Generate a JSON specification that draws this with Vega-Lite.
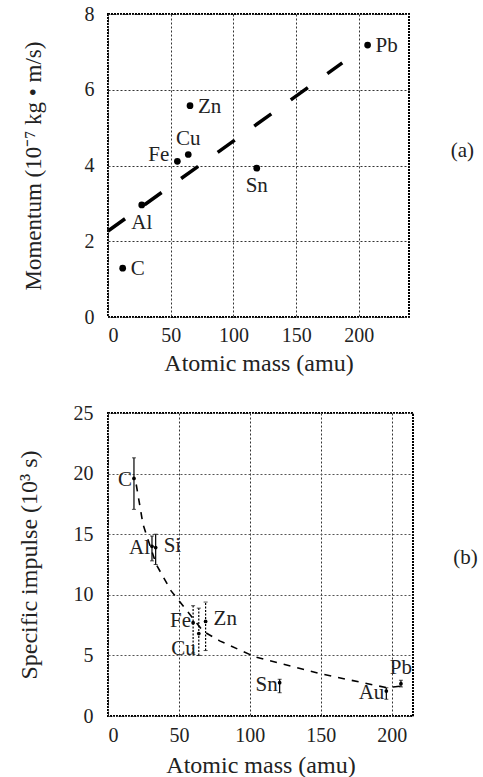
{
  "$schema": "https://vega.github.io/schema/vega-lite/v6.json",
  "padding": {"left": 16, "top": 3, "right": 0, "bottom": 0},
  "background": "white",
  "spacing": 26,
  "config": {
    "font": "Liberation Serif",
    "view": {"stroke": "black", "strokeWidth": 2, "strokeDash": [2, 1]},
    "axis": {
      "grid": true, "gridDash": [2, 2], "gridColor": "#333", "gridOpacity": 1, "gridWidth": 1,
      "domain": false, "ticks": false,
      "labelFont": "Liberation Serif", "labelFontSize": 20, "labelColor": "#222",
      "titleFont": "Liberation Serif", "titleFontSize": 23, "titleFontWeight": "normal", "titleColor": "#222"
    },
    "title": {"font": "Liberation Serif", "fontSize": 21, "fontWeight": "normal", "color": "#222"}
  },
  "datasets": {
    "momentum": [
      {"el": "C", "m": 11.7, "p": 1.29},
      {"el": "Al", "m": 26.9, "p": 2.96},
      {"el": "Fe", "m": 55.3, "p": 4.11},
      {"el": "Cu", "m": 64.0, "p": 4.29},
      {"el": "Zn", "m": 65.4, "p": 5.58},
      {"el": "Sn", "m": 118.6, "p": 3.93},
      {"el": "Pb", "m": 207.0, "p": 7.18}
    ],
    "fit_a": [
      {"m": 0, "p": 2.27},
      {"m": 186.8, "p": 6.71}
    ],
    "impulse": [
      {"el": "C", "m": 18.3, "isp": 19.6, "lo": 17.05, "hi": 21.3},
      {"el": "Al", "m": 31.0, "isp": 14.0, "lo": 12.8, "hi": 14.85},
      {"el": "Si", "m": 33.6, "isp": 13.9, "lo": 12.5, "hi": 15.0},
      {"el": "Fe", "m": 60.0, "isp": 7.7, "lo": 5.2, "hi": 9.1},
      {"el": "Cu", "m": 64.0, "isp": 6.8, "lo": 5.0, "hi": 8.9},
      {"el": "Zn", "m": 68.8, "isp": 7.8, "lo": 5.4, "hi": 9.4},
      {"el": "Sn", "m": 121.0, "isp": 2.75, "lo": 1.92, "hi": 3.03},
      {"el": "Au", "m": 196.2, "isp": 2.06, "lo": 1.38, "hi": 2.33},
      {"el": "Pb", "m": 206.5, "isp": 2.67, "lo": 2.4, "hi": 2.95}
    ],
    "fit_b": [
      {"m": 19.9, "isp": 19.1},
      {"m": 24.7, "isp": 15.8},
      {"m": 34.0, "isp": 12.5},
      {"m": 44.6, "isp": 10.3},
      {"m": 57.6, "isp": 8.4},
      {"m": 67.0, "isp": 7.0},
      {"m": 78.7, "isp": 6.2},
      {"m": 103.8, "isp": 4.87},
      {"m": 151.6, "isp": 3.44},
      {"m": 196.2, "isp": 2.34},
      {"m": 206.7, "isp": 2.47}
    ]
  },
  "vconcat": [
    {
      "width": 301,
      "height": 303,
      "title": {"text": "(a)", "orient": "right", "angle": 0, "anchor": "middle", "offset": 30, "dy": -26, "font": "Liberation Serif"},
      "encoding": {
        "x": {"field": "m", "type": "quantitative", "scale": {"domain": [0, 240], "nice": false},
              "axis": {"values": [0, 50, 100, 150, 200], "labelPadding": 8, "titlePadding": 6, "title": "Atomic mass  (amu)", "titleFontSize": 24,
                       "labelFont": "Liberation Serif", "titleFont": "Liberation Serif"}},
        "y": {"field": "p", "type": "quantitative", "scale": {"domain": [0, 8], "nice": false},
              "axis": {"values": [0, 2, 4, 6, 8], "labelPadding": 14, "titlePadding": 39, "title": "Momentum  (10⁻⁷ kg • m/s)",
                       "labelFont": "Liberation Serif", "titleFont": "Liberation Serif"}}
      },
      "layer": [
        {"data": {"name": "fit_a"}, "mark": {"type": "line", "color": "black", "strokeWidth": 3.5, "strokeDash": [21, 24]}},
        {"data": {"name": "momentum"}, "mark": {"type": "circle", "color": "black", "opacity": 1, "size": 45}},
        {"data": {"name": "momentum"}, "transform": [{"filter": "indexof(['Pb','Zn','C'], datum.el) >= 0"}],
         "mark": {"type": "text", "font": "Liberation Serif", "fontSize": 21, "color": "#222", "align": "left", "baseline": "middle", "dx": 8, "dy": 1},
         "encoding": {"text": {"field": "el"}}},
        {"data": {"name": "momentum"}, "transform": [{"filter": "datum.el === 'Cu'"}],
         "mark": {"type": "text", "font": "Liberation Serif", "fontSize": 21, "color": "#222", "align": "center", "baseline": "middle", "dy": -16},
         "encoding": {"text": {"field": "el"}}},
        {"data": {"name": "momentum"}, "transform": [{"filter": "datum.el === 'Fe'"}],
         "mark": {"type": "text", "font": "Liberation Serif", "fontSize": 21, "color": "#222", "align": "right", "baseline": "middle", "dx": -8, "dy": -6},
         "encoding": {"text": {"field": "el"}}},
        {"data": {"name": "momentum"}, "transform": [{"filter": "indexof(['Sn','Al'], datum.el) >= 0"}],
         "mark": {"type": "text", "font": "Liberation Serif", "fontSize": 21, "color": "#222", "align": "center", "baseline": "middle", "dy": 18},
         "encoding": {"text": {"field": "el"}}}
      ]
    },
    {
      "width": 305,
      "height": 303,
      "title": {"text": "(b)", "orient": "right", "angle": 0, "anchor": "middle", "offset": 28, "dy": -18, "font": "Liberation Serif"},
      "encoding": {
        "x": {"field": "m", "type": "quantitative", "scale": {"domain": [0, 215], "nice": false},
              "axis": {"values": [0, 50, 100, 150, 200], "labelPadding": 9, "titlePadding": 8, "title": "Atomic mass  (amu)", "titleFontSize": 24,
                       "labelFont": "Liberation Serif", "titleFont": "Liberation Serif"}},
        "y": {"field": "isp", "type": "quantitative", "scale": {"domain": [0, 25], "nice": false},
              "axis": {"values": [0, 5, 10, 15, 20, 25], "labelPadding": 15, "titlePadding": 32, "title": "Specific impulse (10³ s)", "titleFontSize": 24,
                       "gridColor": "#555", "labelFont": "Liberation Serif", "titleFont": "Liberation Serif"}}
      },
      "layer": [
        {"data": {"name": "fit_b"}, "mark": {"type": "line", "color": "black", "strokeWidth": 1.6, "strokeDash": [7, 7]}},
        {"data": {"name": "impulse"}, "transform": [{"filter": "indexof(['Fe','Cu','Zn'], datum.el) < 0"}],
         "mark": {"type": "rule", "color": "black", "strokeWidth": 1.2},
         "encoding": {"y": {"field": "lo", "type": "quantitative"}, "y2": {"field": "hi"}}},
        {"data": {"name": "impulse"}, "transform": [{"filter": "indexof(['Fe','Cu','Zn'], datum.el) >= 0"}],
         "mark": {"type": "rule", "color": "black", "strokeWidth": 1.2, "strokeDash": [2, 1.5]},
         "encoding": {"y": {"field": "lo", "type": "quantitative"}, "y2": {"field": "hi"}}},
        {"data": {"name": "impulse"}, "mark": {"type": "tick", "orient": "horizontal", "color": "black", "size": 4, "thickness": 1},
         "encoding": {"y": {"field": "lo", "type": "quantitative"}}},
        {"data": {"name": "impulse"}, "mark": {"type": "tick", "orient": "horizontal", "color": "black", "size": 4, "thickness": 1},
         "encoding": {"y": {"field": "hi", "type": "quantitative"}}},
        {"data": {"name": "impulse"}, "mark": {"type": "circle", "color": "black", "opacity": 1, "size": 14}},
        {"data": {"name": "impulse"}, "transform": [{"filter": "indexof(['C','Al','Sn','Au'], datum.el) >= 0"}],
         "mark": {"type": "text", "font": "Liberation Serif", "fontSize": 21, "color": "#222", "align": "right", "baseline": "middle", "dx": -2, "dy": 2},
         "encoding": {"text": {"field": "el"}}},
        {"data": {"name": "impulse"}, "transform": [{"filter": "datum.el === 'Fe'"}],
         "mark": {"type": "text", "font": "Liberation Serif", "fontSize": 21, "color": "#222", "align": "right", "baseline": "middle", "dx": -2, "dy": -2},
         "encoding": {"text": {"field": "el"}}},
        {"data": {"name": "impulse"}, "transform": [{"filter": "indexof(['Si','Zn'], datum.el) >= 0"}],
         "mark": {"type": "text", "font": "Liberation Serif", "fontSize": 21, "color": "#222", "align": "left", "baseline": "middle", "dx": 8, "dy": -2},
         "encoding": {"text": {"field": "el"}}},
        {"data": {"name": "impulse"}, "transform": [{"filter": "datum.el === 'Cu'"}],
         "mark": {"type": "text", "font": "Liberation Serif", "fontSize": 21, "color": "#222", "align": "right", "baseline": "middle", "dx": -3, "dy": 15},
         "encoding": {"text": {"field": "el"}}},
        {"data": {"name": "impulse"}, "transform": [{"filter": "datum.el === 'Pb'"}],
         "mark": {"type": "text", "font": "Liberation Serif", "fontSize": 21, "color": "#222", "align": "center", "baseline": "middle", "dy": -16},
         "encoding": {"text": {"field": "el"}}}
      ]
    }
  ]
}
